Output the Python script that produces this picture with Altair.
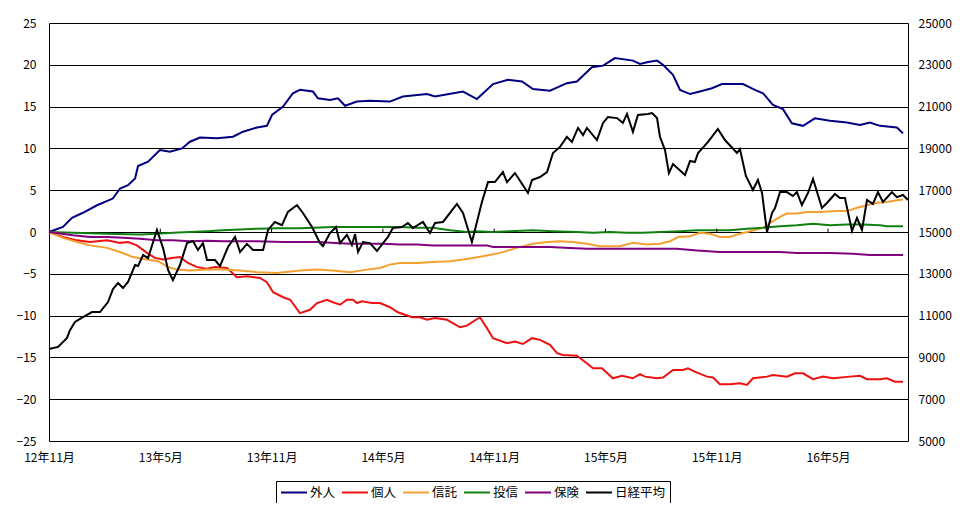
import altair as alt
import pandas as pd

FONT = "Noto Sans CJK JP"

SERIES = ["外人", "個人", "信託", "投信", "保険", "日経平均"]
COLORS = ["#000080", "#EE1111", "#F4A030", "#108010", "#800080", "#000000"]

# x axis: months since 2012-11
X_TICKS = [0, 6, 12, 18, 24, 30, 36, 42]
X_LABELS = ["12年11月", "13年5月", "13年11月", "14年5月", "14年11月", "15年5月", "15年11月", "16年5月"]
LEFT_TICKS = [-25, -20, -15, -10, -5, 0, 5, 10, 15, 20, 25]
RIGHT_TICKS = [5000, 7000, 9000, 11000, 13000, 15000, 17000, 19000, 21000, 23000, 25000]

# 外人 (cumulative net buying, trillion yen)
gaijin_t = [0, 0.75, 1.24, 1.83, 2.59, 3.44, 3.83, 4.26, 4.64, 4.80, 5.34, 5.98, 6.52, 7.17, 7.60, 8.14,
            9.06, 9.92, 10.46, 11.21, 11.75, 12.02, 12.62, 13.15, 13.53, 14.23, 14.50, 15.15, 15.58, 15.96,
            16.60, 17.30, 18.38, 19.08, 20.38, 20.81, 22.32, 23.07, 23.94, 24.74, 25.50, 26.09, 27.01, 27.92,
            28.46, 29.27, 29.87, 30.51, 31.48, 31.86, 32.24, 32.78, 33.10, 33.64, 34.02, 34.56, 35.09, 35.74,
            36.28, 37.41, 38.06, 38.49, 39.03, 39.57, 40.05, 40.65, 41.29, 42.10, 43.02, 43.72, 44.26, 44.80,
            45.71, 46.04]
gaijin_v = [0, 0.6, 1.7, 2.3, 3.2, 4.0, 5.2, 5.6, 6.4, 7.9, 8.4, 9.8, 9.6, 10.0, 10.8, 11.3,
            11.2, 11.4, 12.0, 12.5, 12.7, 14.0, 15.0, 16.6, 17.0, 16.8, 16.0, 15.8, 16.0, 15.1,
            15.6, 15.7, 15.6, 16.2, 16.5, 16.2, 16.8, 15.9, 17.7, 18.2, 18.0, 17.1, 16.9, 17.8,
            18.0, 19.7, 19.9, 20.8, 20.5, 20.1, 20.3, 20.5, 20.0, 18.8, 17.0, 16.5, 16.8, 17.2,
            17.7, 17.7, 17.0, 16.6, 15.2, 14.7, 13.0, 12.7, 13.6, 13.3, 13.1, 12.8, 13.1, 12.7,
            12.5, 11.8]

# 個人
kojin_t = [0, 0.75, 1.51, 2.21, 3.13, 3.83, 4.26, 4.74, 5.28, 5.71, 6.15, 6.63, 7.06, 7.49, 7.98, 8.52,
           8.95, 9.60, 10.13, 10.67, 11.37, 11.75, 12.08, 12.62, 13.00, 13.53, 14.07, 14.45, 14.99, 15.31,
           15.69, 16.06, 16.39, 16.60, 16.87, 17.41, 17.84, 18.38, 18.81, 19.57, 20.00, 20.38, 20.81, 21.46,
           22.16, 22.53, 23.23, 23.61, 23.94, 24.69, 25.12, 25.55, 26.04, 26.47, 27.01, 27.39, 27.71, 28.46,
           28.99, 29.33, 29.81, 30.40, 30.89, 31.48, 31.86, 32.13, 32.78, 33.10, 33.64, 34.18, 34.45, 34.82,
           35.47, 35.80, 36.17, 36.71, 37.25, 37.63, 37.95, 38.71, 39.03, 39.78, 40.22, 40.65, 41.19, 41.73,
           42.26, 43.18, 43.72, 44.10, 44.80, 45.17, 45.61, 46.04]
kojin_v = [0, -0.6, -1.0, -1.2, -1.0, -1.3, -1.2, -1.6, -2.5, -3.1, -3.3, -3.1, -3.0, -3.7, -4.2, -4.4,
           -4.2, -4.3, -5.4, -5.3, -5.5, -6.0, -7.2, -7.8, -8.1, -9.7, -9.3, -8.5, -8.1, -8.4,
           -8.7, -8.1, -8.1, -8.5, -8.3, -8.5, -8.5, -9.0, -9.6, -10.2, -10.2, -10.5, -10.3, -10.5,
           -11.4, -11.2, -10.2, -11.5, -12.7, -13.3, -13.1, -13.4, -12.7, -12.9, -13.5, -14.5, -14.7, -14.8,
           -15.7, -16.3, -16.3, -17.5, -17.2, -17.5, -17.0, -17.3, -17.5, -17.4, -16.5, -16.5, -16.3, -16.7,
           -17.3, -17.4, -18.2, -18.2, -18.1, -18.3, -17.5, -17.3, -17.1, -17.3, -16.9, -16.9, -17.6, -17.3,
           -17.5, -17.3, -17.2, -17.6, -17.6, -17.5, -17.9, -17.9]

# 信託
shintaku_t = [0, 0.75, 1.51, 2.21, 3.13, 3.83, 4.53, 5.28, 5.88, 6.42, 6.90, 7.60, 8.52, 9.38, 10.30, 11.21,
              12.29, 13.53, 14.45, 15.31, 16.23, 17.14, 17.84, 18.38, 18.92, 19.84, 20.70, 21.62, 22.32, 22.86,
              23.61, 24.31, 25.23, 26.09, 26.85, 27.55, 28.25, 29.00, 29.70, 30.78, 31.48, 32.24, 32.94, 33.48,
              33.91, 34.56, 35.09, 35.63, 36.17, 36.71, 37.25, 37.79, 38.49, 38.87, 39.41, 39.78, 40.32, 40.86,
              41.56, 42.48, 43.02, 43.56, 44.10, 44.64, 45.17, 45.71, 46.04]
shintaku_v = [0, -0.7, -1.2, -1.6, -1.9, -2.4, -3.0, -3.3, -3.5, -4.2, -4.5, -4.6, -4.5, -4.5, -4.6, -4.8,
              -4.9, -4.6, -4.5, -4.6, -4.8, -4.5, -4.3, -3.9, -3.7, -3.7, -3.6, -3.5, -3.3, -3.1,
              -2.8, -2.5, -1.9, -1.4, -1.2, -1.1, -1.2, -1.4, -1.7, -1.7, -1.3, -1.5, -1.4, -1.1,
              -0.6, -0.5, -0.1, -0.2, -0.6, -0.6, -0.2, 0.1, 0.5, 1.1, 1.8, 2.2, 2.2, 2.4,
              2.4, 2.5, 2.5, 2.9, 3.2, 3.5, 3.6, 3.8, 3.9]

# 投信
toshin_t = [0, 1.29, 3.13, 4.91, 5.82, 6.68, 7.60, 8.52, 9.38, 10.30, 11.21, 12.29, 13.53, 15.31, 17.14,
            18.92, 19.84, 20.70, 21.62, 22.53, 23.07, 23.94, 24.85, 26.09, 27.17, 28.46, 29.33, 30.24, 31.16,
            32.02, 32.94, 34.02, 34.93, 36.71, 37.63, 38.49, 39.41, 40.32, 41.19, 42.10, 43.02, 43.88, 44.80,
            45.17, 46.04]
toshin_v = [0, -0.1, -0.2, -0.3, -0.2, -0.1, 0, 0.1, 0.2, 0.3, 0.4, 0.45, 0.45, 0.6, 0.6,
            0.6, 0.5, 0.5, 0.2, 0.0, 0.1, 0.0, 0.1, 0.2, 0.1, 0.0, -0.1, 0.0, -0.1,
            -0.1, 0.0, 0.1, 0.2, 0.2, 0.4, 0.5, 0.7, 0.8, 1.0, 0.8, 0.9, 0.9, 0.8,
            0.7, 0.7]

# 保険
hoken_t = [0, 1.29, 2.21, 3.13, 3.99, 4.91, 5.82, 6.68, 7.60, 8.52, 9.38, 11.21, 12.62, 14.45, 16.23,
           18.01, 18.92, 19.84, 20.70, 22.53, 23.61, 23.94, 25.77, 27.01, 28.09, 29.00, 32.02, 33.85, 34.93,
           36.17, 39.41, 40.32, 42.10, 43.34, 44.26, 46.04]
hoken_v = [0, -0.4, -0.6, -0.6, -0.7, -0.8, -1.0, -1.0, -1.1, -1.05, -1.1, -1.1, -1.2, -1.2, -1.4,
           -1.4, -1.5, -1.5, -1.6, -1.6, -1.6, -1.8, -1.8, -1.8, -1.9, -2.0, -2.0, -2.0, -2.2,
           -2.4, -2.4, -2.5, -2.5, -2.6, -2.75, -2.75]

# 日経平均 (right axis, yen)
nikkei_t = [0, 0.49, 0.97, 1.13, 1.40, 1.83, 2.32, 2.75, 3.18, 3.45, 3.72, 3.99, 4.26, 4.64, 4.80, 5.07,
            5.34, 5.82, 6.15, 6.42, 6.68, 7.06, 7.44, 7.76, 8.03, 8.30, 8.52, 8.95, 9.22, 9.65, 10.03,
            10.30, 10.67, 11.00, 11.27, 11.54, 11.81, 12.18, 12.56, 12.88, 13.37, 13.69, 14.18, 14.61, 14.77,
            15.15, 15.47, 15.69, 16.06, 16.33, 16.50, 16.66, 16.93, 17.30, 17.68, 18.01, 18.27, 18.54, 19.03,
            19.35, 19.62, 20.16, 20.54, 20.81, 21.24, 21.62, 21.99, 22.32, 22.80, 23.34, 23.67, 24.04, 24.47,
            24.69, 25.12, 25.82, 26.04, 26.47, 26.85, 27.17, 27.55, 27.92, 28.19, 28.52, 28.79, 29.00, 29.54,
            29.87, 30.13, 30.62, 30.94, 31.16, 31.48, 31.75, 32.29, 32.51, 32.78, 32.94, 33.21, 33.42, 33.64,
            34.29, 34.56, 34.82, 34.99, 35.53, 36.06, 36.44, 37.09, 37.25, 37.57, 37.95, 38.22, 38.44, 38.71,
            38.98, 39.14, 39.41, 39.78, 40.11, 40.32, 40.59, 40.92, 41.19, 41.67, 41.94, 42.37, 42.64, 42.91,
            43.29, 43.56, 43.83, 44.10, 44.42, 44.69, 44.96, 45.44, 45.71, 46.04, 46.31]
nikkei_v = [9400, 9500, 9930, 10300, 10700, 10930, 11170, 11170, 11650, 12270, 12560, 12320, 12610, 13420, 13370, 13900,
            13750, 15100, 14230, 13180, 12700, 13420, 14470, 14570, 14140, 14470, 13660, 13660, 13370, 14280, 14760,
            14040, 14430, 14140, 14140, 14140, 15100, 15480, 15330, 15960, 16290, 15910, 15240, 14470, 14330,
            14950, 15240, 14470, 14860, 14380, 14900, 14050, 14520, 14470, 14090, 14470, 14760, 15190, 15240,
            15430, 15190, 15480, 14950, 15430, 15480, 15910, 16340, 15910, 14520, 16440, 17390, 17390, 17870,
            17390, 17820, 16870, 17490, 17630, 17870, 18780, 19070, 19550, 19310, 19980, 19640, 19980, 19400,
            20220, 20500, 20450, 20220, 20650, 19790, 20600, 20650, 20690, 20450, 19550, 18920, 17820, 18250,
            17730, 18400, 18350, 18780, 19310, 19930, 19400, 18780, 18970, 17680, 17010, 17490, 16870, 15000,
            15910, 16150, 16910, 16910, 16720, 16910, 16290, 16870, 17540, 16150, 16390, 16820, 16630, 16630,
            15050, 15670, 15100, 16530, 16340, 16910, 16440, 16910, 16670, 16770, 16530]

flow_rows = []
for name, ts, vs in [("外人", gaijin_t, gaijin_v), ("個人", kojin_t, kojin_v),
                     ("信託", shintaku_t, shintaku_v), ("投信", toshin_t, toshin_v),
                     ("保険", hoken_t, hoken_v)]:
    for t, v in zip(ts, vs):
        flow_rows.append({"series": name, "t": t, "value": v})
df_flow = pd.DataFrame(flow_rows)
df_nk = pd.DataFrame({"series": "日経平均", "t": nikkei_t, "value": nikkei_v})
df_ticks = pd.DataFrame({"t": X_TICKS[1:], "y0": 0, "y1": 0.4})

label_expr = "[" + ",".join("'" + s + "'" for s in X_LABELS) + "][round(datum.value/6)]"

x_scale = alt.Scale(domain=[0, 46.31], nice=False, zero=False)
x_axis = alt.Axis(values=X_TICKS, labelExpr=label_expr, title=None, grid=False, domain=False,
                  ticks=False, labelPadding=11, labelFontSize=12, labelColor="black", labelFlush=False)
legend = alt.Legend(title=None, orient="none", legendX=227, legendY=458, direction="horizontal",
                    strokeColor="black", padding=4, symbolType="M-1,0H3", symbolStrokeWidth=2,
                    symbolSize=169, labelFontSize=12.5, labelFont=FONT, labelColor="black",
                    columnPadding=2, labelOffset=15)
color = alt.Color("series:N", scale=alt.Scale(domain=SERIES, range=COLORS), legend=legend)

flow = alt.Chart(df_flow).mark_line(strokeWidth=2).encode(
    x=alt.X("t:Q", scale=x_scale, axis=x_axis),
    y=alt.Y("value:Q", scale=alt.Scale(domain=[-25, 25], nice=False),
            axis=alt.Axis(values=LEFT_TICKS, title=None, grid=True, gridColor="black", gridOpacity=1,
                          gridWidth=1, domain=True, domainColor="black", ticks=False, labelPadding=13,
                          labelFontSize=12, labelColor="black", orient="left")),
    color=color,
)

ticks = alt.Chart(df_ticks).mark_rule(color="black", strokeWidth=1).encode(
    x=alt.X("t:Q", scale=x_scale, axis=x_axis),
    y=alt.Y("y0:Q", scale=alt.Scale(domain=[-25, 25], nice=False)),
    y2="y1:Q",
)

left = alt.layer(flow, ticks)

nk = alt.Chart(df_nk).mark_line(strokeWidth=2).encode(
    x=alt.X("t:Q", scale=x_scale, axis=x_axis),
    y=alt.Y("value:Q", scale=alt.Scale(domain=[5000, 25000], nice=False),
            axis=alt.Axis(values=RIGHT_TICKS, title=None, grid=False, domain=True, domainColor="black",
                          ticks=False, labelPadding=10, labelFontSize=12, labelColor="black",
                          orient="right", format="d")),
    color=color,
)

chart = alt.layer(left, nk).resolve_scale(y="independent").properties(
    width=859, height=418,
    autosize=alt.AutoSizeParams(type="none"),
    padding={"left": 41, "top": 15, "right": 52, "bottom": 62},
).configure(font=FONT).configure_view(stroke=None)

chart.save("out.html", embed_options={"renderer": "svg", "actions": False})
